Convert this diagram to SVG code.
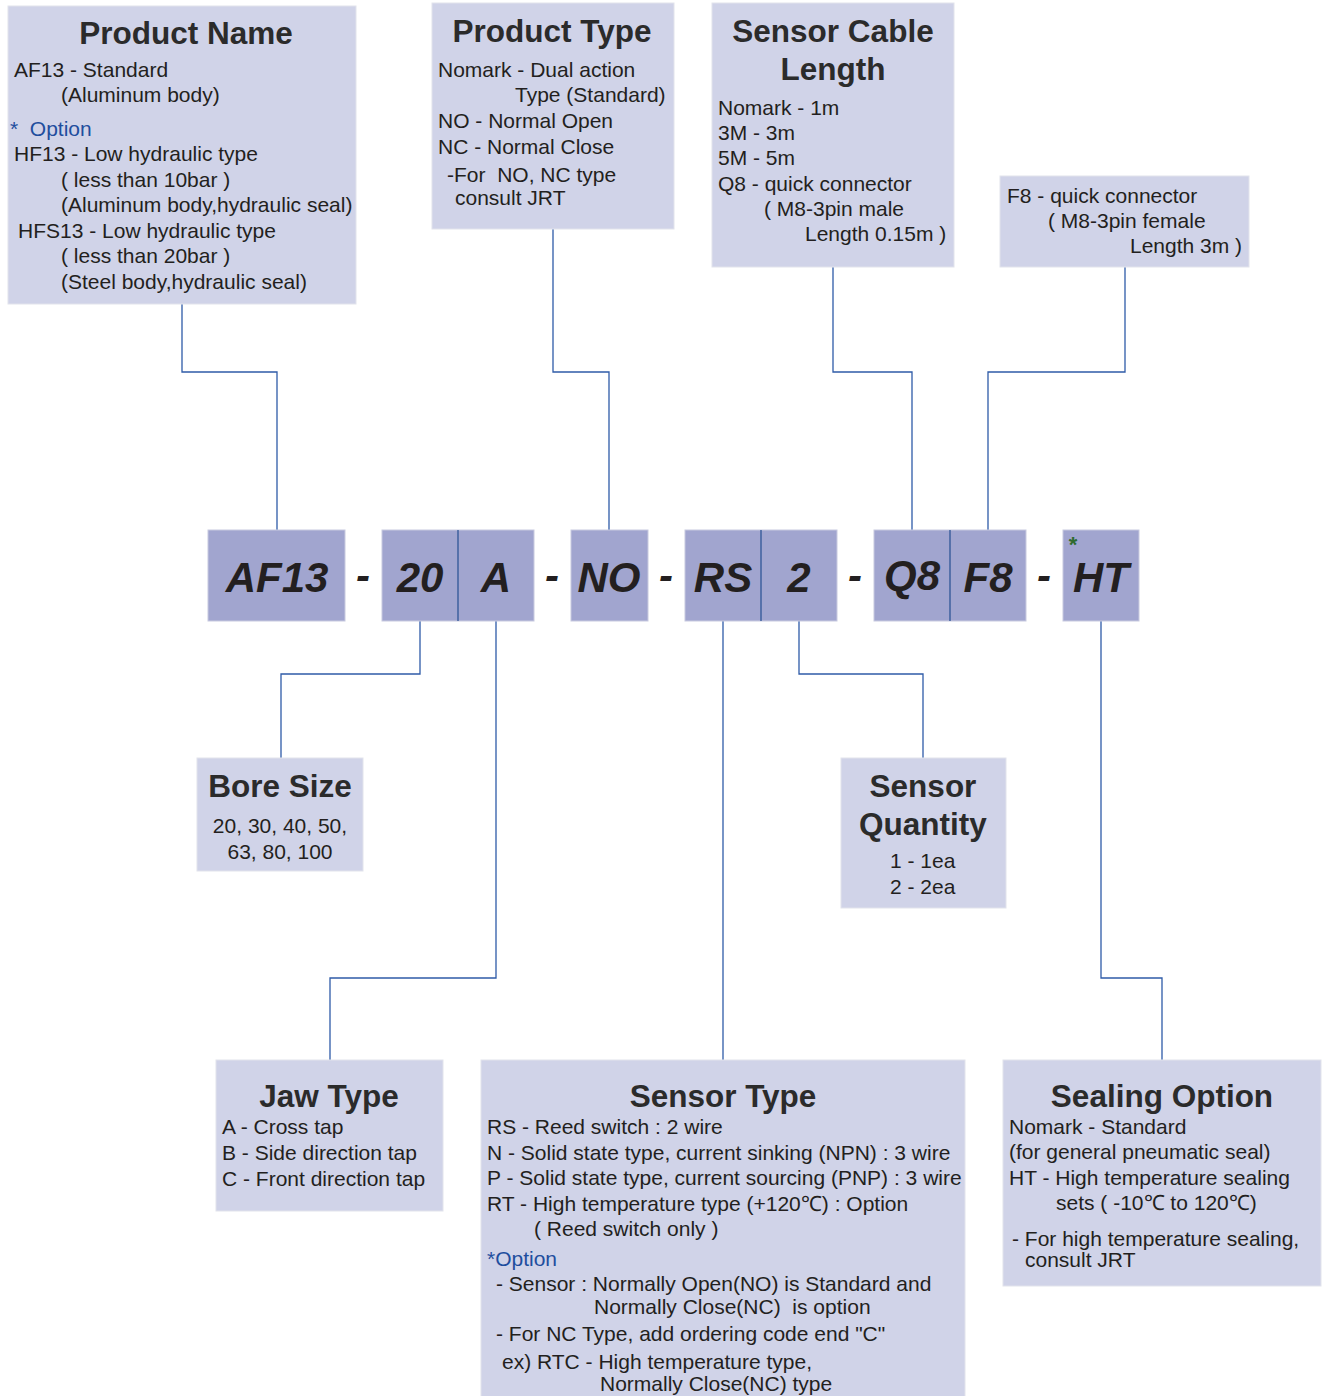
<svg xmlns="http://www.w3.org/2000/svg" width="1322" height="1396" viewBox="0 0 1322 1396">
<style>
.box{fill:#D0D3E8;stroke:#E2E3EC;stroke-width:1}
.code{fill:#A1A5CF;stroke:#C8CADF;stroke-width:1}
.div{stroke:#2F5597;stroke-width:1.3}
.con{fill:none;stroke:#2F5BA8;stroke-width:1.3}
text{font-family:"Liberation Sans",Arial,sans-serif;white-space:pre}
.h{font-size:31.5px;font-weight:bold;fill:#2B2B2B;text-anchor:middle}
.t{font-size:21px;fill:#231F20}
.c{font-size:21px;fill:#231F20;text-anchor:middle}
.b{font-size:21px;fill:#1F4E9E}
.k{font-size:42px;font-weight:bold;font-style:italic;fill:#231F20;text-anchor:middle}
</style>
<rect width="1322" height="1396" fill="#FFFFFF"/>
<g id="connectors">
<polyline class="con" points="182,304 182,372 277,372 277,530"/>
<polyline class="con" points="553,229 553,372 609,372 609,530"/>
<polyline class="con" points="833,267 833,372 912,372 912,530"/>
<polyline class="con" points="1125,267 1125,372 988,372 988,530"/>
<polyline class="con" points="420,621 420,674 281,674 281,758"/>
<polyline class="con" points="496,621 496,978 330,978 330,1060"/>
<polyline class="con" points="723,621 723,1060"/>
<polyline class="con" points="799,621 799,674 923,674 923,758"/>
<polyline class="con" points="1101,621 1101,978 1162,978 1162,1060"/>
</g>
<g id="product-name">
<rect class="box" x="8" y="6" width="348" height="298"/>
<text class="h" x="186" y="44">Product Name</text>
<text class="t" x="14" y="77">AF13 - Standard</text>
<text class="t" x="61" y="102">(Aluminum body)</text>
<text class="b" x="10" y="136">*  Option</text>
<text class="t" x="14" y="161">HF13 - Low hydraulic type</text>
<text class="t" x="61" y="187">( less than 10bar )</text>
<text class="t" x="61" y="212">(Aluminum body,hydraulic seal)</text>
<text class="t" x="18" y="238">HFS13 - Low hydraulic type</text>
<text class="t" x="61" y="263">( less than 20bar )</text>
<text class="t" x="61" y="289">(Steel body,hydraulic seal)</text>
</g>
<g id="product-type">
<rect class="box" x="432" y="3" width="242" height="226"/>
<text class="h" x="552" y="42">Product Type</text>
<text class="t" x="438" y="77">Nomark - Dual action</text>
<text class="t" x="515" y="102">Type (Standard)</text>
<text class="t" x="438" y="128">NO - Normal Open</text>
<text class="t" x="438" y="154">NC - Normal Close</text>
<text class="t" x="447" y="182">-For  NO, NC type</text>
<text class="t" x="455" y="205">consult JRT</text>
</g>
<g id="sensor-cable-length">
<rect class="box" x="712" y="3" width="242" height="264"/>
<text class="h" x="833" y="42">Sensor Cable</text>
<text class="h" x="833" y="80">Length</text>
<text class="t" x="718" y="115">Nomark - 1m</text>
<text class="t" x="718" y="140">3M - 3m</text>
<text class="t" x="718" y="165">5M - 5m</text>
<text class="t" x="718" y="191">Q8 - quick connector</text>
<text class="t" x="764" y="216">( M8-3pin male</text>
<text class="t" x="805" y="241">Length 0.15m )</text>
</g>
<g id="f8-connector">
<rect class="box" x="1000" y="176" width="249" height="91"/>
<text class="t" x="1007" y="203">F8 - quick connector</text>
<text class="t" x="1048" y="228">( M8-3pin female</text>
<text class="t" x="1130" y="253">Length 3m )</text>
</g>
<g id="code-af13">
<rect class="code" x="208" y="530" width="137" height="91"/>
<text class="k" x="277" y="592">AF13</text>
</g>
<g id="code-20-a">
<rect class="code" x="382" y="530" width="152" height="91"/>
<line class="div" x1="458" y1="530" x2="458" y2="621"/>
<text class="k" x="420" y="592">20</text>
<text class="k" x="496" y="592">A</text>
</g>
<g id="code-no">
<rect class="code" x="571" y="530" width="77" height="91"/>
<text class="k" x="609" y="592">NO</text>
</g>
<g id="code-rs-2">
<rect class="code" x="685" y="530" width="152" height="91"/>
<line class="div" x1="761" y1="530" x2="761" y2="621"/>
<text class="k" x="723" y="592">RS</text>
<text class="k" x="799" y="592">2</text>
</g>
<g id="code-q8-f8">
<rect class="code" x="874" y="530" width="152" height="91"/>
<line class="div" x1="950" y1="530" x2="950" y2="621"/>
<text class="k" x="912" y="590">Q8</text>
<text class="k" x="988" y="592">F8</text>
</g>
<g id="code-ht">
<rect class="code" x="1063" y="530" width="76" height="91"/>
<text x="1073" y="552" style="font-size:22px;font-weight:bold;fill:#2E6B2E;text-anchor:middle">*</text>
<text class="k" x="1101" y="592">HT</text>
</g>
<g id="dashes">
<text class="k" x="363" y="590">-</text>
<text class="k" x="552" y="590">-</text>
<text class="k" x="666" y="590">-</text>
<text class="k" x="855" y="590">-</text>
<text class="k" x="1044" y="590">-</text>
</g>
<g id="bore-size">
<rect class="box" x="197" y="758" width="166" height="113"/>
<text class="h" x="280" y="797">Bore Size</text>
<text class="c" x="280" y="833">20, 30, 40, 50,</text>
<text class="c" x="280" y="859">63, 80, 100</text>
</g>
<g id="sensor-quantity">
<rect class="box" x="841" y="758" width="165" height="150"/>
<text class="h" x="923" y="797">Sensor</text>
<text class="h" x="923" y="835">Quantity</text>
<text class="t" x="890" y="868">1 - 1ea</text>
<text class="t" x="890" y="894">2 - 2ea</text>
</g>
<g id="jaw-type">
<rect class="box" x="216" y="1060" width="227" height="151"/>
<text class="h" x="329" y="1107">Jaw Type</text>
<text class="t" x="222" y="1134">A - Cross tap</text>
<text class="t" x="222" y="1160">B - Side direction tap</text>
<text class="t" x="222" y="1186">C - Front direction tap</text>
</g>
<g id="sensor-type">
<rect class="box" x="481" y="1060" width="484" height="340"/>
<text class="h" x="723" y="1107">Sensor Type</text>
<text class="t" x="487" y="1134">RS - Reed switch : 2 wire</text>
<text class="t" x="487" y="1160">N - Solid state type, current sinking (NPN) : 3 wire</text>
<text class="t" x="487" y="1185">P - Solid state type, current sourcing (PNP) : 3 wire</text>
<text class="t" x="487" y="1211">RT - High temperature type (+120℃) : Option</text>
<text class="t" x="534" y="1236">( Reed switch only )</text>
<text class="b" x="487" y="1266">*Option</text>
<text class="t" x="496" y="1291">- Sensor : Normally Open(NO) is Standard and</text>
<text class="t" x="594" y="1314">Normally Close(NC)  is option</text>
<text class="t" x="496" y="1341">- For NC Type, add ordering code end "C"</text>
<text class="t" x="502" y="1369">ex) RTC - High temperature type,</text>
<text class="t" x="600" y="1391">Normally Close(NC) type</text>
</g>
<g id="sealing-option">
<rect class="box" x="1003" y="1060" width="318" height="226"/>
<text class="h" x="1162" y="1107">Sealing Option</text>
<text class="t" x="1009" y="1134">Nomark - Standard</text>
<text class="t" x="1009" y="1159">(for general pneumatic seal)</text>
<text class="t" x="1009" y="1185">HT - High temperature sealing</text>
<text class="t" x="1056" y="1210">sets ( -10℃ to 120℃)</text>
<text class="t" x="1012" y="1246">- For high temperature sealing,</text>
<text class="t" x="1025" y="1267">consult JRT</text>
</g>
</svg>
